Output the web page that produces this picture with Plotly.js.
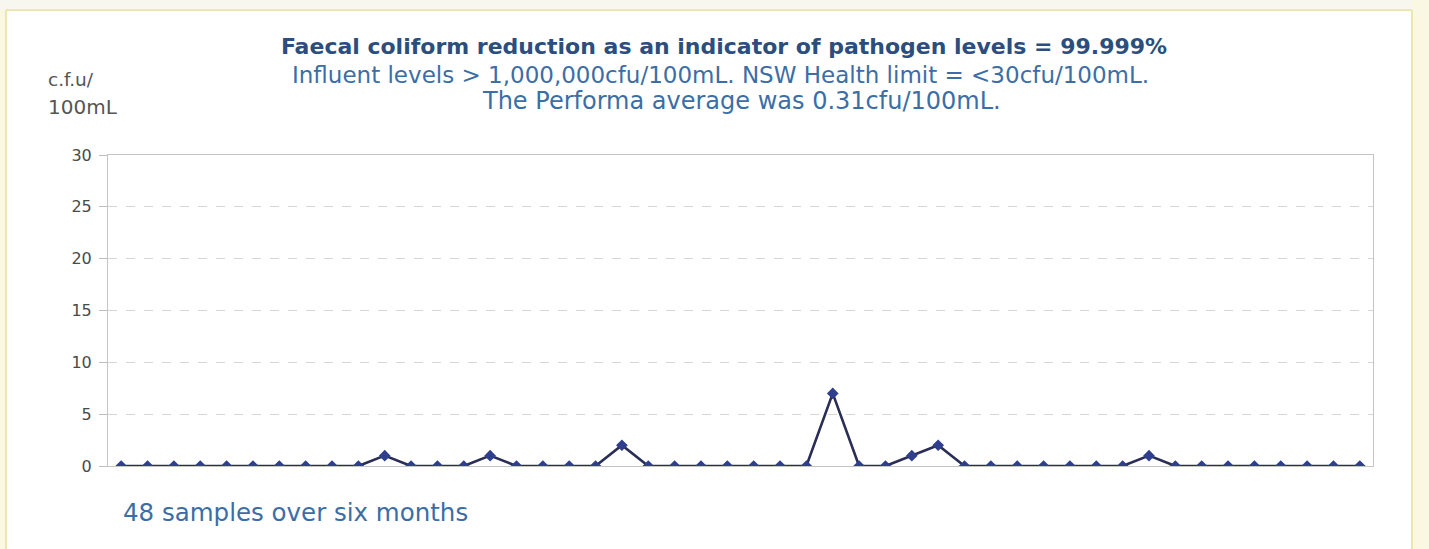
<!DOCTYPE html>
<html>
<head>
<meta charset="utf-8">
<script src="https://cdn.plot.ly/plotly-3.0.1.min.js"></script>
<style>html,body{margin:0;padding:0;background:#fff;}#chart{width:1429px;height:549px;}</style>
</head>
<body>
<div id="chart"></div>
<script>
// Sample numbers 1..48
const samples = Array.from({length: 48}, (_, i) => i + 1);
// Faecal coliform counts (cfu/100mL)
const cfu = [0,0,0,0,0,0,0,0,0,0,1,0,0,0,1,0,0,0,0,2,0,0,0,0,0,0,0,7,0,0,1,2,0,0,0,0,0,0,0,1,0,0,0,0,0,0,0,0];
const yTicks = [0,5,10,15,20,25,30];

const titleText = "Faecal coliform reduction as an indicator of pathogen levels = 99.999%";
const subLine1 = "Influent levels > 1,000,000cfu/100mL. NSW Health limit = <30cfu/100mL.";
const subLine2 = "The Performa average was 0.31cfu/100mL.";
const yLabelTop = "c.f.u/";
const yLabelBottom = "100mL";
const footNote = "48 samples over six months";

const FONT = "DejaVu Sans, sans-serif";

const trace = {
  x: samples,
  y: cfu,
  type: "scatter",
  mode: "lines+markers",
  line: {color: "#2a2d55", width: 2.6},
  marker: {symbol: "diamond", size: 9, color: "#2f3f8e"},
  hoverinfo: "x+y",
  showlegend: false
};

const layout = {
  width: 1429, height: 549,
  margin: {l: 108, r: 56, t: 155, b: 83},
  paper_bgcolor: "#ffffff",
  plot_bgcolor: "#ffffff",
  title: {
    text: "<b>" + titleText + "</b>",
    font: {family: FONT, size: 22, color: "#2b4e7e"},
    x: (724-108)/1265, xanchor: "center", xref: "paper",
    y: 1 - 46/549, yanchor: "middle", yref: "container"
  },
  xaxis: {
    range: [0.5, 48.5],
    showticklabels: false,
    showgrid: false,
    zeroline: false,
    showline: true, linecolor: "#c4c4c4", linewidth: 1, mirror: true,
    ticks: ""
  },
  yaxis: {
    range: [0, 30],
    tickvals: yTicks,
    ticktext: yTicks.map(String),
    tickfont: {family: FONT, size: 16, color: "#4a4a4a"},
    ticks: "outside", ticklen: 8, tickcolor: "#bdbdbd",
    ticklabelstandoff: 4,
    showgrid: true, gridcolor: "#d6d6d6", griddash: "dash", gridwidth: 1,
    zeroline: true, zerolinecolor: "#c4c4c4", zerolinewidth: 1,
    showline: true, linecolor: "#c4c4c4", linewidth: 1, mirror: true
  },
  annotations: [
    {text: subLine1, xref: "paper", yref: "paper", x: (720-108)/1265, y: 1 + (155-75)/311, xanchor: "center", yanchor: "middle", showarrow: false, font: {family: FONT, size: 23, color: "#3b6ea6"}},
    {text: subLine2, xref: "paper", yref: "paper", x: (741-108)/1265, y: 1 + (155-101)/311, xanchor: "center", yanchor: "middle", showarrow: false, font: {family: FONT, size: 24, color: "#3b6ea6"}},
    {text: yLabelTop, xref: "paper", yref: "paper", x: -(108-46)/1265, y: 1 + (155-80)/311, xanchor: "left", yanchor: "middle", align: "left", showarrow: false, font: {family: FONT, size: 18.5, color: "#555555"}},
    {text: yLabelBottom, xref: "paper", yref: "paper", x: -(108-46)/1265, y: 1 + (155-107)/311, xanchor: "left", yanchor: "middle", align: "left", showarrow: false, font: {family: FONT, size: 20, color: "#555555"}},
    {text: footNote, xref: "paper", yref: "paper", x: (121-108)/1265, y: -(512-466)/311, xanchor: "left", yanchor: "middle", showarrow: false, font: {family: FONT, size: 24.5, color: "#3b6ea6"}}
  ],
  shapes: [
    {type: "rect", xref: "paper", yref: "paper", x0: -108/1265, x1: (1429-108)/1265, y0: 1 + 155/311, y1: 1 + (155-9)/311, fillcolor: "#f7f6ef", line: {width: 0}, layer: "below"},
    {type: "rect", xref: "paper", yref: "paper", x0: (1412-108)/1265, x1: (1429-108)/1265, y0: -83/311, y1: 1 + 155/311, fillcolor: "#faf7e2", line: {width: 0}, layer: "below"},
    {type: "rect", xref: "paper", yref: "paper", x0: -108/1265, x1: -102/1265, y0: -83/311, y1: 1 + (155-9)/311, fillcolor: "#faf7e2", line: {width: 0}, layer: "below"},
    {type: "line", xref: "paper", yref: "paper", x0: -102/1265, x1: (1412-108)/1265, y0: 1 + (155-10)/311, y1: 1 + (155-10)/311, line: {color: "#ece6b2", width: 2}},
    {type: "line", xref: "paper", yref: "paper", x0: -102/1265, x1: -102/1265, y0: -83/311, y1: 1 + (155-10)/311, line: {color: "#ece6b2", width: 2}},
    {type: "line", xref: "paper", yref: "paper", x0: (1412-108)/1265, x1: (1412-108)/1265, y0: -83/311, y1: 1 + (155-10)/311, line: {color: "#ece6b2", width: 2}}
  ]
};

Plotly.newPlot("chart", [trace], layout, {displayModeBar: false, staticPlot: true});
</script>
</body>
</html>
